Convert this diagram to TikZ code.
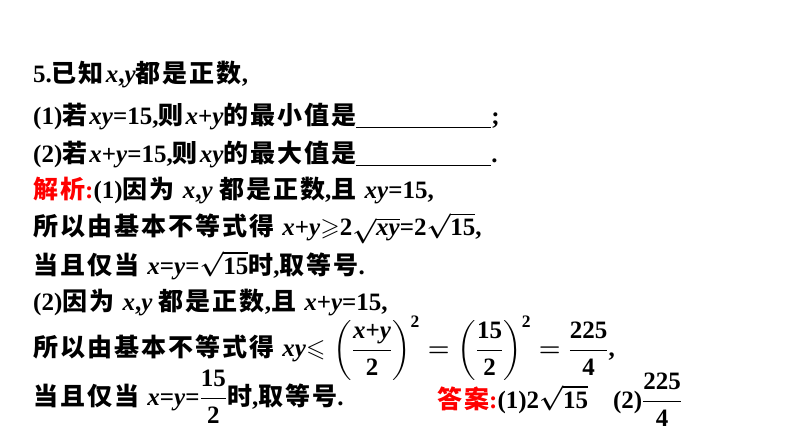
\documentclass[tikz,border=0pt]{standalone}
\usepackage{amsmath,amssymb}
\usepackage{fontspec}
\setmainfont{Liberation Serif}
\newfontfamily\zhf{Noto Sans CJK SC}[LetterSpace=8]
\newcommand{\zh}[1]{{\zhf\bfseries #1}}
\newcommand{\vi}[1]{\textbf{\textit{#1}}}
\begin{document}
\begin{tikzpicture}[x=1pt,y=-1pt,
  ln/.style={anchor=west,inner sep=0pt,font=\fontsize{25}{29}\selectfont\bfseries\boldmath}]
\useasboundingbox (0,0) rectangle (794,446);
\node[ln] (l1) at (33,75) {5.\zh{已知}\vi{x},\vi{y}\zh{都是正数},};
\node[ln] (l2) at (33,117) {(1)\zh{若}\vi{xy}=15,\zh{则}\vi{x}+\vi{y}\zh{的最小值是}\rule[-3pt]{135pt}{1.2pt};};
\node[ln] (l3) at (33,155) {(2)\zh{若}\vi{x}+\vi{y}=15,\zh{则}\vi{xy}\zh{的最大值是}\rule[-3pt]{135pt}{1.2pt}.};
\node[ln] (l4) at (33,190) {\textcolor{red}{\zh{解析}:}(1)\zh{因为} \vi{x},\vi{y} \zh{都是正数},\zh{且} \vi{xy}=15,};
\node[ln] (l5) at (33,228) {\zh{所以由基本不等式得} \vi{x}+\vi{y}$\geqslant$2$\sqrt{\text{\vi{xy}}}$=2$\sqrt{\text{15}}$,};
\node[ln] (l6) at (33,265) {\zh{当且仅当} \vi{x}=\vi{y}=$\sqrt{\text{15}}$\zh{时},\zh{取等号}.};
\node[ln] (l7) at (33,302) {(2)\zh{因为} \vi{x},\vi{y} \zh{都是正数},\zh{且} \vi{x}+\vi{y}=15,};
\node[ln] (l8) at (33,348) {\zh{所以由基本不等式得} \vi{xy}$\leqslant\left(\dfrac{\text{\vi{x}+\vi{y}}}{\text{2}}\right)^{\text{2}}=\left(\dfrac{\text{15}}{\text{2}}\right)^{\text{2}}=\dfrac{\text{225}}{\text{4}}$,};
\node[ln] (l9) at (33,397) {\zh{当且仅当} \vi{x}=\vi{y}=$\dfrac{\text{15}}{\text{2}}$\zh{时},\zh{取等号}.};
\node[ln] (ans) at (437,400) {\textcolor{red}{\zh{答案}:}(1)2$\sqrt{\text{15}}$\quad(2)$\dfrac{\text{225}}{\text{4}}$};
\end{tikzpicture}
\end{document}
